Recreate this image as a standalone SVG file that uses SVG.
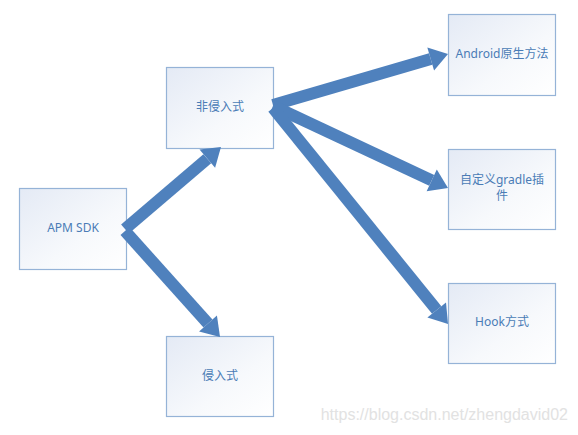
<svg xmlns="http://www.w3.org/2000/svg" width="578" height="435" viewBox="0 0 578 435">
<defs>
<linearGradient id="bg" x1="0" y1="0" x2="1" y2="1">
<stop offset="0" stop-color="#e4eaf5"/>
<stop offset="0.6" stop-color="#f7f9fc"/>
<stop offset="1" stop-color="#ffffff"/>
</linearGradient>
<marker id="ah" markerUnits="strokeWidth" markerWidth="1.5" markerHeight="2" refX="0" refY="1" orient="auto" overflow="visible">
<path d="M0,0 L1.5,1 L0,2 z" fill="#4f81bd"/>
</marker>
</defs>
<style>
.box{fill:url(#bg);stroke:#95b3d7;stroke-width:1.2}
.lbl{font-family:"Noto Sans","Noto Sans CJK SC",sans-serif;font-size:12px;fill:#4a7cb6;text-anchor:middle;dominant-baseline:middle}
.arr{stroke:#4f81bd;stroke-width:12;fill:none;marker-end:url(#ah)}
</style>
<rect width="578" height="435" fill="#ffffff"/>
<g id="n-apm"><rect class="box" x="19.5" y="188.5" width="107" height="81"/><text class="lbl" x="73" y="229">APM SDK</text></g>
<g id="n-non"><rect class="box" x="166.5" y="67.5" width="107" height="81"/><text class="lbl" x="220" y="108">非侵入式</text></g>
<g id="n-inv"><rect class="box" x="166.5" y="336.5" width="107" height="80"/><text class="lbl" x="220" y="377">侵入式</text></g>
<g id="n-android"><rect class="box" x="448.5" y="14.5" width="107" height="81"/><text class="lbl" x="502" y="55">Android原生方法</text></g>
<g id="n-gradle"><rect class="box" x="448.5" y="149.5" width="107" height="80"/><text class="lbl" x="502" y="181">自定义gradle插</text><text class="lbl" x="502" y="197">件</text></g>
<g id="n-hook"><rect class="box" x="448.5" y="283.5" width="107" height="80"/><text class="lbl" x="502" y="323">Hook方式</text></g>
<g id="connectors">
<line class="arr" x1="125" y1="229" x2="207.3" y2="158.7"/>
<line class="arr" x1="125" y1="231" x2="208" y2="323.6"/>
<line class="arr" x1="273" y1="105" x2="430.7" y2="59"/>
<line class="arr" x1="273" y1="106" x2="431.7" y2="180.4"/>
<line class="arr" x1="273" y1="108" x2="436.7" y2="310"/>
</g>
<text x="568" y="420" font-family="Liberation Sans, Arial, sans-serif" font-size="16" fill="#e2e2e2" text-anchor="end">https://blog.csdn.net/zhengdavid02</text>
</svg>
